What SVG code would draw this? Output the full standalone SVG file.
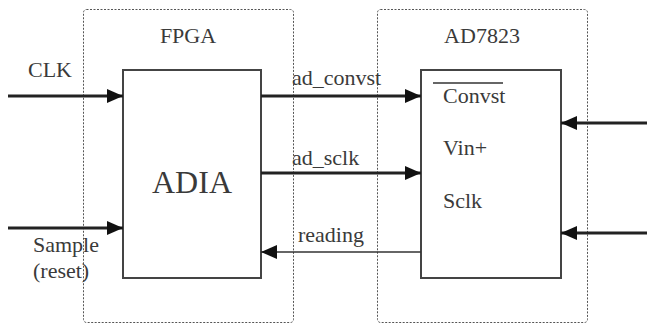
<svg xmlns="http://www.w3.org/2000/svg" width="647" height="324" viewBox="0 0 647 324">
<defs>
<style>
text{font-family:"Liberation Serif","Times New Roman",serif;font-size:22px;fill:#3a3a3a}
.grp{fill:none;stroke:#555;stroke-width:1;stroke-dasharray:2 1.5}
.box{fill:#fff;stroke:#444;stroke-width:2}
.w{stroke:#222;stroke-width:3;fill:none}
.t{stroke:#333;stroke-width:1.6;fill:none}
</style>
<marker id="ah" viewBox="0 0 16 14" refX="16" refY="7" markerWidth="16" markerHeight="14" markerUnits="userSpaceOnUse" orient="auto">
<path d="M0,0 L16,7 L0,14 Z" fill="#111"/>
</marker>
</defs>
<rect width="647" height="324" fill="#fff"/>
<g id="fpga">
<rect class="grp" x="83.5" y="9.5" width="210" height="313" rx="3"/>
<text x="188" y="43" text-anchor="middle">FPGA</text>
</g>
<g id="ad7823">
<rect class="grp" x="377.5" y="9.5" width="210" height="313" rx="3"/>
<text x="482" y="43" text-anchor="middle">AD7823</text>
</g>
<g id="adia">
<rect class="box" x="123" y="70" width="138" height="208"/>
<text x="192" y="193" text-anchor="middle" style="font-size:32px">ADIA</text>
</g>
<g id="adc">
<rect class="box" x="421" y="70" width="140" height="208"/>
<line x1="433" y1="83" x2="503" y2="83" stroke="#333" stroke-width="1.5"/>
<text x="443" y="103">Convst</text>
<text x="443" y="155">Vin+</text>
<text x="443" y="208">Sclk</text>
</g>
<g id="connectors">
<line class="w" x1="8" y1="96" x2="123" y2="96" marker-end="url(#ah)"/>
<line class="w" x1="8" y1="228" x2="123" y2="228" marker-end="url(#ah)"/>
<line class="w" x1="261" y1="96" x2="421" y2="96" marker-end="url(#ah)"/>
<line class="w" x1="261" y1="173" x2="421" y2="173" marker-end="url(#ah)"/>
<line class="t" x1="421" y1="252" x2="261" y2="252" marker-end="url(#ah)"/>
<line class="w" x1="647" y1="123" x2="561" y2="123" marker-end="url(#ah)"/>
<line class="w" x1="647" y1="233" x2="561" y2="233" marker-end="url(#ah)"/>
</g>
<g id="labels">
<text x="28" y="77">CLK</text>
<text x="33" y="252">Sample</text>
<text x="33" y="278">(reset)</text>
<text x="292" y="85">ad_convst</text>
<text x="292" y="165">ad_sclk</text>
<text x="298" y="242">reading</text>
</g>
</svg>
